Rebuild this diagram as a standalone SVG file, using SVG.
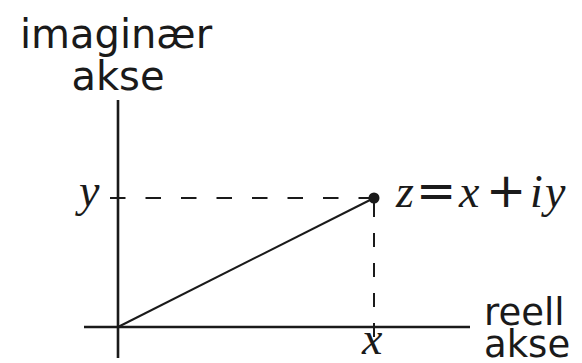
<svg xmlns="http://www.w3.org/2000/svg" width="582" height="363" viewBox="0 0 582 363">
<style>
.sans{font-family:"DejaVu Sans","Liberation Sans",sans-serif;font-size:40px;fill:#1a1a1a}
.small{font-size:37px}
.math{font-family:"Liberation Serif","DejaVu Serif",serif;font-size:46px;font-style:italic;fill:#1a1a1a}
.op{font-family:"DejaVu Sans","Liberation Sans",sans-serif;font-style:normal;font-size:48px}
.axis{stroke:#1a1a1a;stroke-width:2.6;fill:none}
.thin{stroke:#1a1a1a;stroke-width:2;fill:none}
.dash{stroke:#1a1a1a;stroke-width:2;fill:none}
</style>
<rect width="582" height="363" fill="#fff"/>
<g id="imag-axis">
<line class="axis" x1="118" y1="100" x2="118" y2="358"/>
<text class="sans" x="116" y="48" text-anchor="middle">imaginær</text>
<text class="sans" x="118" y="90" text-anchor="middle">akse</text>
</g>
<g id="real-axis">
<line class="axis" x1="84" y1="327" x2="470" y2="327"/>
<text class="sans small" x="484" y="325">reell</text>
<text class="sans small" x="484" y="357">akse</text>
</g>
<g id="point-z">
<circle cx="374" cy="198" r="5.5" fill="#1a1a1a"/>
<text class="math" y="207"><tspan x="396">z</tspan><tspan class="op" x="416">=</tspan><tspan x="459">x</tspan><tspan class="op" x="486">+</tspan><tspan x="530">i</tspan><tspan x="545">y</tspan></text>
</g>
<g id="label-y">
<text class="math" x="79" y="206">y</text>
</g>
<g id="label-x">
<text class="math" x="362" y="354">x</text>
</g>
<g id="connectors">
<line class="thin" x1="118" y1="327" x2="374" y2="198"/>
<line class="dash" x1="374" y1="198" x2="108" y2="198" stroke-dasharray="15.5 20"/>
<line class="dash" x1="374" y1="337" x2="374" y2="198" stroke-dasharray="14 16"/>
</g>
</svg>
